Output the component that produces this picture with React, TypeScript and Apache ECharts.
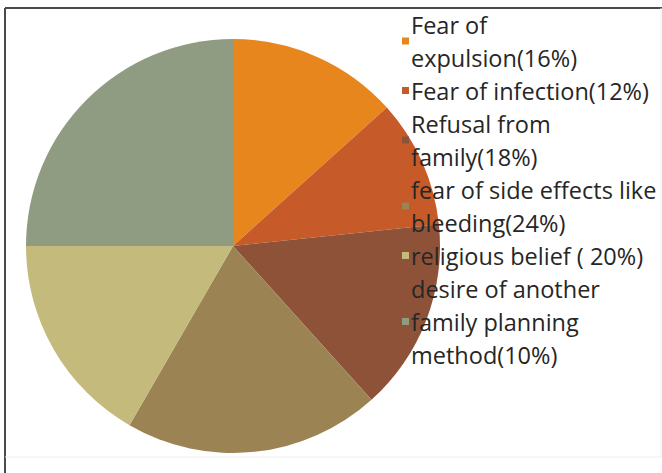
import React, { useEffect, useRef } from "react";
import * as echarts from "echarts";

// Reasons given, slice sizes and the wrapped legend text for each reason
const reasons = [
  "Fear of expulsion(16%)",
  "Fear of infection(12%)",
  "Refusal from family(18%)",
  "fear of side effects like bleeding(24%)",
  "religious belief ( 20%)",
  "desire of another family planning method(10%)",
];
const values = [16, 12, 18, 24, 20, 30];
const legendLines = [
  ["Fear of", "expulsion(16%)"],
  ["Fear of infection(12%)"],
  ["Refusal from", "family(18%)"],
  ["fear of side effects like", "bleeding(24%)"],
  ["religious belief ( 20%)"],
  ["desire of another", "family planning", "method(10%)"],
];
const colors = ["#E7861C", "#C65A28", "#8E5239", "#9B8353", "#C3BA7C", "#8F9C82"];

export default function App() {
  const ref = useRef<HTMLDivElement>(null);

  useEffect(() => {
    if (!ref.current) return;
    const chart = echarts.init(ref.current, null, { renderer: "svg" });
    chart.setOption({
      animation: false,
      backgroundColor: "#ffffff",
      color: colors,
      legend: {
        orient: "vertical",
        left: 397,
        top: 3,
        itemGap: 0,
        itemWidth: 7,
        itemHeight: 7,
        icon: "rect",
        selectedMode: false,
        data: reasons,
        formatter: (name: string) => legendLines[reasons.indexOf(name)].join("\n"),
        textStyle: {
          fontFamily: "Open Sans",
          fontSize: 23.5,
          lineHeight: 33,
          color: "#262626",
          padding: [0, 0, 0, -3],
        },
      },
      graphic: [
        { type: "line", shape: { x1: 5, y1: 8, x2: 662, y2: 8 }, style: { stroke: "#4a4a4a", lineWidth: 2 } },
        { type: "line", shape: { x1: 5, y1: 8, x2: 5, y2: 473 }, style: { stroke: "#4a4a4a", lineWidth: 2 } },
        { type: "line", shape: { x1: 661, y1: 8, x2: 661, y2: 457 }, style: { stroke: "#eeeeee", lineWidth: 1 } },
        { type: "line", shape: { x1: 5, y1: 457, x2: 662, y2: 457 }, style: { stroke: "#eeeeee", lineWidth: 1 } },
      ],
      series: [
        {
          type: "pie",
          center: [233, 246],
          radius: 207,
          startAngle: 90,
          clockwise: true,
          label: { show: false },
          labelLine: { show: false },
          emphasis: { disabled: true },
          z: 1,
          data: reasons.map((name, i) => ({ name, value: values[i] })),
        },
      ],
    });
    return () => chart.dispose();
  }, []);

  return (
    <div
      ref={ref}
      style={{ position: "fixed", left: 0, top: 0, width: 662, height: 473 }}
    />
  );
}
